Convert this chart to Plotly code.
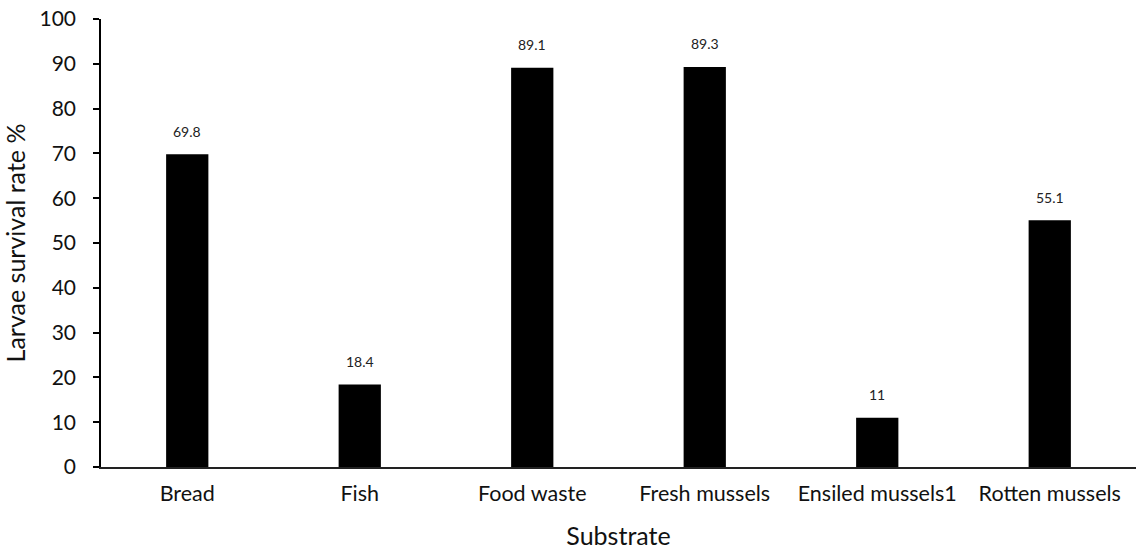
import plotly.graph_objects as go

categories = ["Bread", "Fish", "Food waste", "Fresh mussels", "Ensiled mussels1", "Rotten mussels"]
survival = [69.8, 18.4, 89.1, 89.3, 11, 55.1]
labels = ["69.8", "18.4", "89.1", "89.3", "11", "55.1"]
y_ticks = [0, 10, 20, 30, 40, 50, 60, 70, 80, 90, 100]

fig = go.Figure()
fig.add_trace(go.Bar(
    x=categories, y=survival,
    marker=dict(color="black", line=dict(width=0)),
    width=0.245,
))
for c, v, t in zip(categories, survival, labels):
    fig.add_annotation(x=c, y=v, text=t, showarrow=False, yanchor="middle",
                       yshift=23, font=dict(size=14, color="#222", family="Lato"))

fig.update_layout(
    width=1136, height=550,
    margin=dict(l=101, r=0, t=19, b=83),
    paper_bgcolor="white", plot_bgcolor="white",
    font=dict(family="Lato", color="#111"),
    showlegend=False,
    xaxis=dict(
        showline=True, linecolor="#222", linewidth=1.5,
        ticks="", tickfont=dict(size=21.5), ticklabelstandoff=6,
        title=dict(text="Substrate", font=dict(size=25), standoff=24),
    ),
    yaxis=dict(
        range=[0, 100], tickvals=y_ticks, showgrid=False, zeroline=False,
        showline=True, linecolor="black", linewidth=1.5,
        ticks="outside", ticklen=6, tickcolor="black", tickwidth=1.5,
        tickfont=dict(size=21), ticklabelstandoff=13,
        title=dict(text="Larvae survival rate %", font=dict(size=25), standoff=12),
    ),
)
fig.write_html("out.html")
